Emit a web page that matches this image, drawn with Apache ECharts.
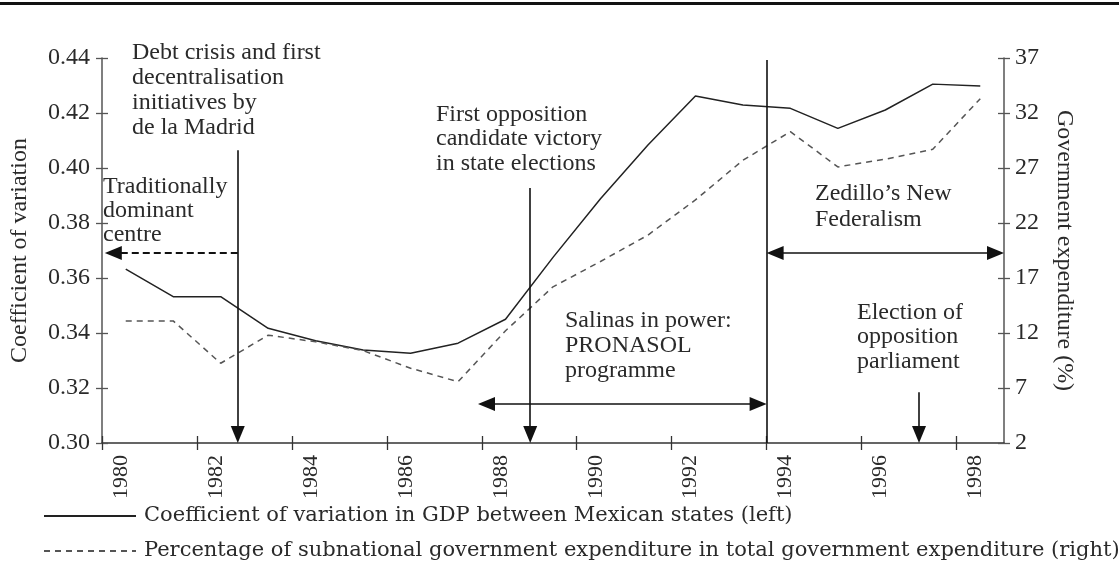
<!DOCTYPE html>
<html>
<head>
<meta charset="utf-8">
<script src="https://cdn.jsdelivr.net/npm/echarts@6/dist/echarts.min.js"></script>
<style>
html, body { margin: 0; padding: 0; background: #fff; }
#main { width: 1119px; height: 587px; }
</style>
</head>
<body>
<div id="main"></div>
<script>
// data (one value per year, plotted mid-year)
var years = [1980, 1981, 1982, 1983, 1984, 1985, 1986, 1987, 1988, 1989,
             1990, 1991, 1992, 1993, 1994, 1995, 1996, 1997, 1998];
var cvGdp = [0.3632, 0.3532, 0.3532, 0.3417, 0.3372, 0.3338, 0.3326, 0.3363, 0.3450, 0.3675,
             0.3888, 0.4084, 0.4262, 0.4229, 0.4217, 0.4144, 0.4211, 0.4305, 0.4298];
var govExp = [13.1, 13.1, 9.25, 11.8, 11.2, 10.4, 8.8, 7.57, 12.2, 16.2,
              18.5, 20.9, 24.1, 27.7, 30.3, 27.1, 27.8, 28.7, 33.3];
var xTickYears = [1980, 1982, 1984, 1986, 1988, 1990, 1992, 1994, 1996, 1998];

var nameCv = 'Coefficient of variation in GDP between Mexican states (left)';
var nameGov = 'Percentage of subnational government expenditure in total government expenditure (right)';

var FONT = 'Liberation Serif';
var TXT = '#2a2a2a';
var AX = '#555';

// small offsets so arrow tips land on the target (symbol is centred on the end point)
var dy = 8.5 * 0.14 / 385;
var dx = 8.5 / 47.58;

function mid(list) {
  return list.map(function (v, i) { return [years[i] + 0.5, v]; });
}

var arrowStyle = { color: '#111', width: 1.6, type: 'solid' };

var chart = echarts.init(document.getElementById('main'));

var option = {
  animation: false,
  backgroundColor: '#fff',
  grid: { left: 100, right: 115, top: 58, bottom: 144 },
  legend: {
    orient: 'vertical',
    left: 38,
    top: 500,
    itemWidth: 92,
    itemHeight: 14,
    itemGap: 13,
    selectedMode: false,
    itemStyle: { opacity: 0 },
    data: [nameCv, nameGov],
    textStyle: { fontFamily: 'DejaVu Serif', fontSize: 21, lineHeight: 22, color: TXT, padding: [0, 0, 0, 3] }
  },
  xAxis: [{
    type: 'value',
    position: 'bottom',
    min: 1980,
    max: 1999,
    splitLine: { show: false },
    axisLine: { lineStyle: { color: '#333', width: 1.5 } },
    axisTick: { customValues: xTickYears, length: 7, lineStyle: { color: '#333', width: 1.3 } },
    axisLabel: {
      customValues: xTickYears.map(function (y) { return y + 0.4; }),
      formatter: function (v) { return String(Math.floor(v)); },
      rotate: 90,
      margin: 12,
      fontFamily: FONT,
      fontSize: 22,
      color: TXT
    }
  }, {
    type: 'value',
    position: 'bottom',
    min: 1980,
    max: 1999,
    splitLine: { show: false },
    axisLine: { show: false },
    axisLabel: { show: false },
    axisTick: { customValues: xTickYears, inside: true, length: 7, lineStyle: { color: '#333', width: 1.3 } }
  }],
  yAxis: [{
    type: 'value',
    position: 'left',
    min: 0.30,
    max: 0.44,
    interval: 0.02,
    name: 'Coefficient of variation',
    nameLocation: 'middle',
    nameGap: 70,
    nameTextStyle: { fontFamily: FONT, fontSize: 24, color: TXT },
    splitLine: { show: false },
    axisLine: { show: true, lineStyle: { color: AX, width: 1.5 } },
    axisTick: { show: true, length: 6, lineStyle: { color: AX, width: 1.3 } },
    axisLabel: {
      margin: 12,
      fontFamily: FONT,
      fontSize: 24,
      color: TXT,
      formatter: function (v) { return v.toFixed(2); }
    }
  }, {
    type: 'value',
    position: 'right',
    min: 2,
    max: 37,
    interval: 5,
    name: 'Government expenditure (%)',
    nameLocation: 'middle',
    nameRotate: -90,
    nameGap: 48,
    nameTextStyle: { fontFamily: FONT, fontSize: 24, color: TXT },
    splitLine: { show: false },
    axisLine: { show: true, lineStyle: { color: AX, width: 1.5 } },
    axisTick: { show: true, length: 6, lineStyle: { color: AX, width: 1.3 } },
    axisLabel: { margin: 11, fontFamily: FONT, fontSize: 24, color: TXT }
  }, {
    type: 'value',
    position: 'left',
    min: 0.30,
    max: 0.44,
    interval: 0.02,
    splitLine: { show: false },
    axisLine: { show: false },
    axisLabel: { show: false },
    axisTick: { show: true, inside: true, length: 6, lineStyle: { color: AX, width: 1.3 } }
  }, {
    type: 'value',
    position: 'right',
    min: 2,
    max: 37,
    interval: 5,
    splitLine: { show: false },
    axisLine: { show: false },
    axisLabel: { show: false },
    axisTick: { show: true, inside: true, length: 6, lineStyle: { color: AX, width: 1.3 } }
  }],
  series: [{
    name: nameCv,
    type: 'line',
    xAxisIndex: 0,
    yAxisIndex: 0,
    symbol: 'none',
    data: mid(cvGdp),
    lineStyle: { color: '#222', width: 1.5 },
    itemStyle: { color: '#222' },
    markLine: {
      silent: true,
      label: { show: false },
      symbolSize: [14, 17],
      data: [
        // debt crisis arrow
        [{ coord: [1982.86, 0.4065], symbol: 'none', lineStyle: arrowStyle },
         { coord: [1982.86, 0.30 + dy], symbol: 'triangle' }],
        // traditionally dominant centre (dashed, pointing left)
        [{ coord: [1982.86, 0.3691], symbol: 'none', lineStyle: { color: '#111', width: 2.2, type: [7, 4] } },
         { coord: [1980.06 + dx, 0.3691], symbol: 'triangle' }],
        // first opposition victory
        [{ coord: [1989.02, 0.3927], symbol: 'none', lineStyle: arrowStyle },
         { coord: [1989.02, 0.30 + dy], symbol: 'triangle' }],
        // Salinas in power
        [{ coord: [1987.92 + dx, 0.3142], symbol: 'triangle', lineStyle: arrowStyle },
         { coord: [1994 - dx, 0.3142], symbol: 'triangle' }],
        // 1994 divider
        [{ coord: [1994, 0.4393], symbol: 'none', lineStyle: arrowStyle },
         { coord: [1994, 0.30], symbol: 'none' }],
        // Zedillo's New Federalism
        [{ coord: [1994 + dx, 0.3691], symbol: 'triangle', lineStyle: arrowStyle },
         { coord: [1999 - dx, 0.3691], symbol: 'triangle' }],
        // election of opposition parliament
        [{ coord: [1997.21, 0.3185], symbol: 'none', lineStyle: arrowStyle },
         { coord: [1997.21, 0.30 + dy], symbol: 'triangle' }]
      ]
    }
  }, {
    name: nameGov,
    type: 'line',
    xAxisIndex: 0,
    yAxisIndex: 1,
    symbol: 'none',
    data: mid(govExp),
    lineStyle: { color: '#555', width: 1.5, type: [6, 5] },
    itemStyle: { color: '#555' }
  }],
  graphic: [
    { type: 'rect', shape: { x: 0, y: 2, width: 1119, height: 3 }, style: { fill: '#111' } },
    { type: 'text', left: 132, top: 40, style: { text: 'Debt crisis and first\ndecentralisation\ninitiatives by\nde la Madrid', font: '24px "Liberation Serif"', lineHeight: 25, fill: TXT } },
    { type: 'text', left: 103, top: 175, style: { text: 'Traditionally\ndominant\ncentre', font: '24px "Liberation Serif"', lineHeight: 24, fill: TXT } },
    { type: 'text', left: 436, top: 102, style: { text: 'First opposition\ncandidate victory\nin state elections', font: '24px "Liberation Serif"', lineHeight: 24.5, fill: TXT } },
    { type: 'text', left: 565, top: 308, style: { text: 'Salinas in power:\nPRONASOL\nprogramme', font: '24px "Liberation Serif"', lineHeight: 25, fill: TXT } },
    { type: 'text', left: 815, top: 181, style: { text: 'Zedillo\u2019s New\nFederalism', font: '24px "Liberation Serif"', lineHeight: 26, fill: TXT } },
    { type: 'text', left: 857, top: 300, style: { text: 'Election of\nopposition\nparliament', font: '24px "Liberation Serif"', lineHeight: 24.5, fill: TXT } }
  ]
};

chart.setOption(option);
</script>
</body>
</html>
